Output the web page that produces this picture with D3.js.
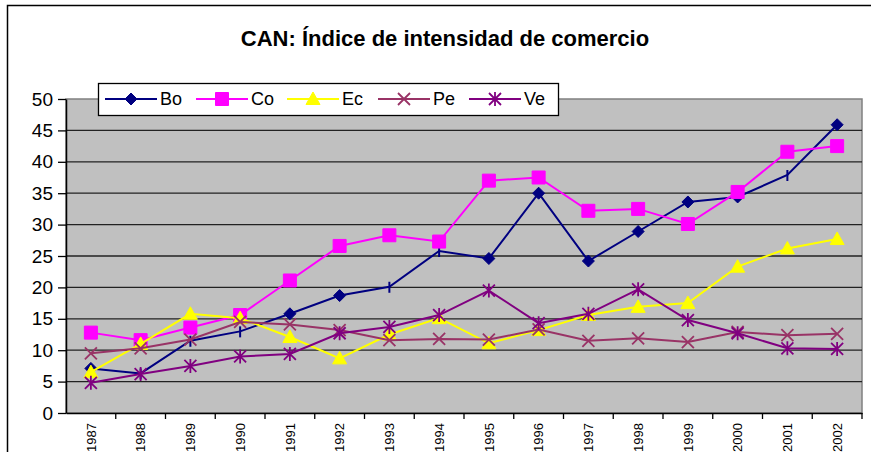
<!DOCTYPE html>
<html>
<head>
<meta charset="utf-8">
<script src="https://cdn.jsdelivr.net/npm/d3@7"></script>
<style>
  body { margin: 0; background: #fff; }
  text { font-family: Arial, "Liberation Sans", sans-serif; }
</style>
</head>
<body>
<script>
// data
var years = ["1987","1988","1989","1990","1991","1992","1993","1994",
             "1995","1996","1997","1998","1999","2000","2001","2002"];
var bo = [7.1, 6.3, 11.5, 13.0, 15.8, 18.7, 20.1, 25.8, 24.6, 35.0, 24.2, 28.9, 33.6, 34.4, 37.9, 45.9];
var co = [12.8, 11.6, 13.6, 15.6, 21.1, 26.6, 28.3, 27.3, 37.0, 37.5, 32.2, 32.5, 30.1, 35.2, 41.6, 42.5];
var ec = [6.5, 11.0, 15.8, 15.1, 12.1, 8.7, 12.5, 15.1, 11.1, 13.2, 15.6, 16.9, 17.5, 23.3, 26.2, 27.7];
var pe = [9.5, 10.3, 11.7, 14.5, 14.1, 13.2, 11.6, 11.8, 11.7, 13.3, 11.5, 11.9, 11.3, 12.9, 12.4, 12.6];
var ve = [4.8, 6.2, 7.5, 9.0, 9.4, 12.7, 13.7, 15.6, 19.5, 14.3, 15.8, 19.7, 14.8, 12.7, 10.3, 10.2];
var seriesNames = ["Bo", "Co", "Ec", "Pe", "Ve"];
var yTicks = [0, 5, 10, 15, 20, 25, 30, 35, 40, 45, 50];
// years where the Bo marker shows only as a small dash
var boDashYears = ["1988", "1989", "1990", "1993", "1994", "2001"];

var width = 871, height = 452,
    plot = {left: 66, right: 862, top: 99, bottom: 413};

var series = [
  {name: "Bo", values: bo, color: "#000080", marker: "diamond"},
  {name: "Co", values: co, color: "#ff00ff", marker: "square"},
  {name: "Ec", values: ec, color: "#ffff00", marker: "triangle"},
  {name: "Pe", values: pe, color: "#993366", marker: "cross"},
  {name: "Ve", values: ve, color: "#800080", marker: "star"}
];

var svg = d3.select("body").append("svg")
    .attr("width", width)
    .attr("height", height);

// chart frame
svg.append("rect")
    .attr("x", 7.5).attr("y", 5.5)
    .attr("width", 880).attr("height", 470)
    .attr("fill", "#fff")
    .attr("stroke", "#000")
    .attr("stroke-width", 1.5);

svg.append("text")
    .attr("x", 445).attr("y", 46)
    .attr("text-anchor", "middle")
    .attr("font-size", 22)
    .attr("font-weight", "bold")
    .text("CAN: Índice de intensidad de comercio");

var x = d3.scaleBand().domain(years).range([plot.left, plot.right]);
var y = d3.scaleLinear().domain([0, 50]).range([plot.bottom, plot.top]);

// plot area
svg.append("rect")
    .attr("x", plot.left).attr("y", plot.top)
    .attr("width", plot.right - plot.left)
    .attr("height", plot.bottom - plot.top)
    .attr("fill", "#c0c0c0")
    .attr("stroke", "#808080")
    .attr("stroke-width", 1.5);

// gridlines
svg.append("g").selectAll("line")
    .data(yTicks.slice(1, -1))
    .enter().append("line")
    .attr("x1", plot.left).attr("x2", plot.right)
    .attr("y1", function(d) { return y(d); })
    .attr("y2", function(d) { return y(d); })
    .attr("stroke", "#222")
    .attr("stroke-width", 1.3);

// y axis
var yAxis = svg.append("g")
    .attr("transform", "translate(" + plot.left + ",0)")
    .call(d3.axisLeft(y).tickValues(yTicks).tickSize(8).tickPadding(5).tickSizeOuter(0));
yAxis.select(".domain").attr("stroke", "#000").attr("stroke-width", 1.5);
yAxis.selectAll(".tick line").attr("stroke", "#000").attr("stroke-width", 1.3);
yAxis.selectAll("text").attr("font-size", 19).attr("fill", "#000")
    .attr("font-family", "Arial, 'Liberation Sans', sans-serif");

// x axis
var xAxis = svg.append("g")
    .attr("transform", "translate(0," + plot.bottom + ")")
    .call(d3.axisBottom(x).tickSize(0).tickSizeOuter(0));
xAxis.select(".domain").attr("stroke", "#000").attr("stroke-width", 1.5);
xAxis.selectAll("text")
    .attr("font-size", 13).attr("fill", "#000")
    .attr("font-family", "Arial, 'Liberation Sans', sans-serif")
    .attr("text-anchor", "end")
    .attr("transform", "rotate(-90)")
    .attr("x", -10).attr("y", 0).attr("dy", "0.36em");

// x ticks at category boundaries
xAxis.selectAll(".bound")
    .data(years.slice(1).concat(["end"]))
    .enter().append("line")
    .attr("x1", function(d, i) { return i < years.length - 1 ? x(d) : plot.right; })
    .attr("x2", function(d, i) { return i < years.length - 1 ? x(d) : plot.right; })
    .attr("y1", 0).attr("y2", 6)
    .attr("stroke", "#000").attr("stroke-width", 1.3);

// marker shapes
function markerPath(type) {
  if (type === "diamond") return "M0,-6L6,0L0,6L-6,0Z";
  if (type === "square") return "M-6.5,-6.5H6.5V6.5H-6.5Z";
  if (type === "triangle") return "M0,-7L7,5.5H-7Z";
  if (type === "cross") return "M-6,-6L6,6M-6,6L6,-6";
  if (type === "star") return "M-6,-6L6,6M-6,6L6,-6M0,-7V7";
}
function drawMarker(g, s, cx, cy, dash) {
  var filled = s.marker === "diamond" || s.marker === "square" || s.marker === "triangle";
  if (dash) {
    g.append("path").attr("d", "M" + cx + "," + (cy - 5) + "V" + (cy + 6))
      .attr("stroke", s.color).attr("stroke-width", 2).attr("fill", "none");
    return;
  }
  g.append("path")
    .attr("transform", "translate(" + cx + "," + cy + ")")
    .attr("d", markerPath(s.marker))
    .attr("fill", filled ? s.color : "none")
    .attr("stroke", s.color)
    .attr("stroke-width", filled ? 1 : 1.8);
}

var line = d3.line()
    .x(function(d, i) { return x(years[i]) + x.bandwidth() / 2; })
    .y(function(d) { return y(d); });

series.forEach(function(s) {
  var g = svg.append("g").attr("class", "series");
  g.append("path")
    .attr("d", line(s.values))
    .attr("fill", "none")
    .attr("stroke", s.color)
    .attr("stroke-width", 2);
  s.values.forEach(function(v, i) {
    var dash = s.name === "Bo" && boDashYears.indexOf(years[i]) >= 0;
    drawMarker(g, s, x(years[i]) + x.bandwidth() / 2, y(v), dash);
  });
});

// legend
var legend = svg.append("g").attr("transform", "translate(98,83)");
legend.append("rect")
    .attr("x", 0.5).attr("y", 0.5)
    .attr("width", 460).attr("height", 32)
    .attr("fill", "#fff")
    .attr("stroke", "#000")
    .attr("stroke-width", 1.3);
series.forEach(function(s, i) {
  var g = legend.append("g").attr("transform", "translate(" + (7 + i * 91) + ",16)");
  g.append("line").attr("x1", 0).attr("x2", 52)
    .attr("stroke", s.color).attr("stroke-width", 2);
  drawMarker(g, s, 26, 0, false);
  g.append("text")
    .attr("x", 55).attr("y", 0).attr("dy", "0.36em")
    .attr("font-size", 18)
    .text(seriesNames[i]);
});
</script>
</body>
</html>
